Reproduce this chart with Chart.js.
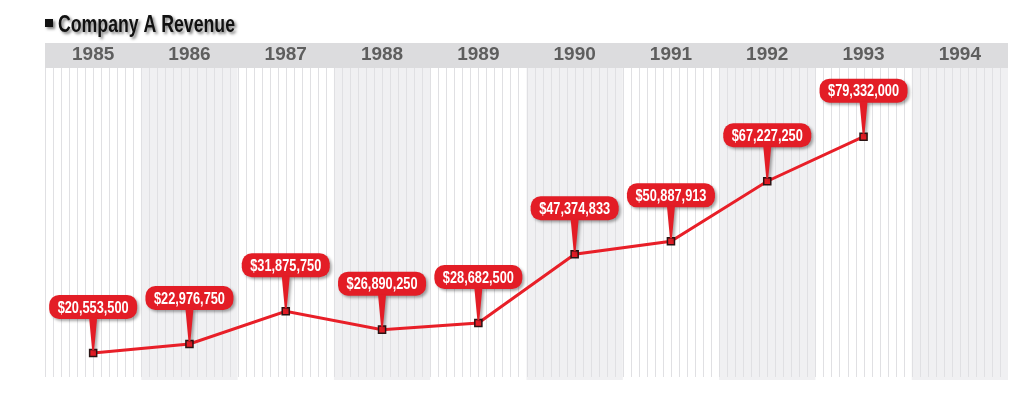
<!DOCTYPE html>
<html>
<head>
<meta charset="utf-8">
<script src="https://cdn.jsdelivr.net/npm/chart.js@4.4.0/dist/chart.umd.min.js"></script>
<style>
  html, body { margin: 0; padding: 0; background: #fff; }
  #wrap { width: 1024px; height: 395px; position: relative; }
</style>
</head>
<body>
<div id="wrap"><canvas id="revenueChart" width="1024" height="395"></canvas></div>
<script>
var years = ["1985","1986","1987","1988","1989","1990","1991","1992","1993","1994"];
var revenue = [20553500, 22976750, 31875750, 26890250, 28682500, 47374833, 50887913, 67227250, 79332000, null];
var chartTitle = "Company A Revenue";

var condensed = "'Liberation Sans Narrow', 'Liberation Sans', Arial, sans-serif";

// header band, alternating year columns and monthly grid lines
var backdropPlugin = {
    id: "backdrop",
    beforeDraw: function (chart) {
        var ctx = chart.ctx, area = chart.chartArea, x = chart.scales.x;
        var w = (area.right - area.left) / years.length;
        ctx.save();
        ctx.fillStyle = "#dcdcde";
        ctx.fillRect(area.left, x.top + 1, area.right - area.left, x.bottom - x.top - 1);
        for (var i = 0; i < years.length; i++) {
            var left = x.getPixelForValue(i) - w / 2;
            if (i % 2 == 1) {
                ctx.fillStyle = "#f0f0f2";
                ctx.fillRect(left, area.top, w, area.bottom - area.top);
            }
            ctx.strokeStyle = "#e0e0e3";
            ctx.lineWidth = 1;
            for (var k = 0; k < 12; k++) {
                var gx = Math.round(left + k * w / 12) + 0.5;
                ctx.beginPath();
                ctx.moveTo(gx, area.top);
                ctx.lineTo(gx, area.bottom - 3);
                ctx.stroke();
            }
        }
        // title
        ctx.fillStyle = "#111";
        ctx.shadowColor = "rgba(0,0,0,0.5)";
        ctx.shadowBlur = 3;
        ctx.shadowOffsetX = 2;
        ctx.shadowOffsetY = 2;
        ctx.fillRect(45, 19, 8, 8);
        ctx.font = "bold 23px 'Liberation Sans', Arial, sans-serif";
        ctx.textBaseline = "alphabetic";
        ctx.textAlign = "left";
        ctx.fillText(chartTitle, 58, 32, 177);
        ctx.restore();
    }
};

// red value callouts above each point
var calloutPlugin = {
    id: "callouts",
    afterDatasetsDraw: function (chart) {
        var ctx = chart.ctx;
        var meta = chart.getDatasetMeta(0);
        ctx.save();
        meta.data.forEach(function (pt, i) {
            var v = revenue[i];
            if (v == null) return;
            var label = "$" + v.toLocaleString("en-US");
            var px = pt.x, py = pt.y;
            var bw = 88, bh = 24, r = 10;
            var bx = px - bw / 2, by = py - 58;
            ctx.fillStyle = "#e31d26";
            ctx.shadowColor = "rgba(0,0,0,0.35)";
            ctx.shadowBlur = 3;
            ctx.shadowOffsetX = 2;
            ctx.shadowOffsetY = 2;
            ctx.beginPath();
            ctx.roundRect(bx, by, bw, bh, r);
            ctx.fill();
            ctx.beginPath();
            ctx.moveTo(px - 4, by + bh - 1);
            ctx.lineTo(px + 4, by + bh - 1);
            ctx.lineTo(px + 1, py - 3);
            ctx.lineTo(px - 1, py - 3);
            ctx.closePath();
            ctx.fill();
            ctx.shadowColor = "transparent";
            ctx.fillStyle = "#fff";
            ctx.font = "bold 17px 'Liberation Sans', Arial, sans-serif";
            ctx.textAlign = "center";
            ctx.textBaseline = "middle";
            ctx.fillText(label, px, by + bh / 2 + 1, 71);
        });
        ctx.restore();
    }
};

var config = {
    type: "line",
    data: {
        labels: years,
        datasets: [{
            label: "Revenue",
            data: revenue,
            borderColor: "#e81f28",
            borderWidth: 3,
            backgroundColor: "#e31d26",
            pointStyle: "rect",
            pointRadius: 5,
            pointBorderColor: "#2a1414",
            pointBorderWidth: 1.5,
            tension: 0
        }]
    },
    options: {
        responsive: false,
        animation: false,
        layout: { padding: { left: 45, right: 16, top: 42, bottom: 15 } },
        plugins: {
            legend: { display: false },
            tooltip: { enabled: false }
        },
        scales: {
            x: {
                type: "category",
                position: "top",
                offset: true,
                grid: { display: false, drawTicks: false },
                border: { display: false },
                ticks: {
                    color: "#5e5e5e",
                    padding: 2,
                    font: { family: condensed, size: 19, weight: "bold" }
                },
                afterFit: function (scale) { scale.height = 26; }
            },
            y: {
                display: false,
                min: 13200000,
                max: 98000000
            }
        }
    },
    plugins: [backdropPlugin, calloutPlugin]
};

var revenueChart = new Chart(document.getElementById("revenueChart"), config);
</script>
</body>
</html>
